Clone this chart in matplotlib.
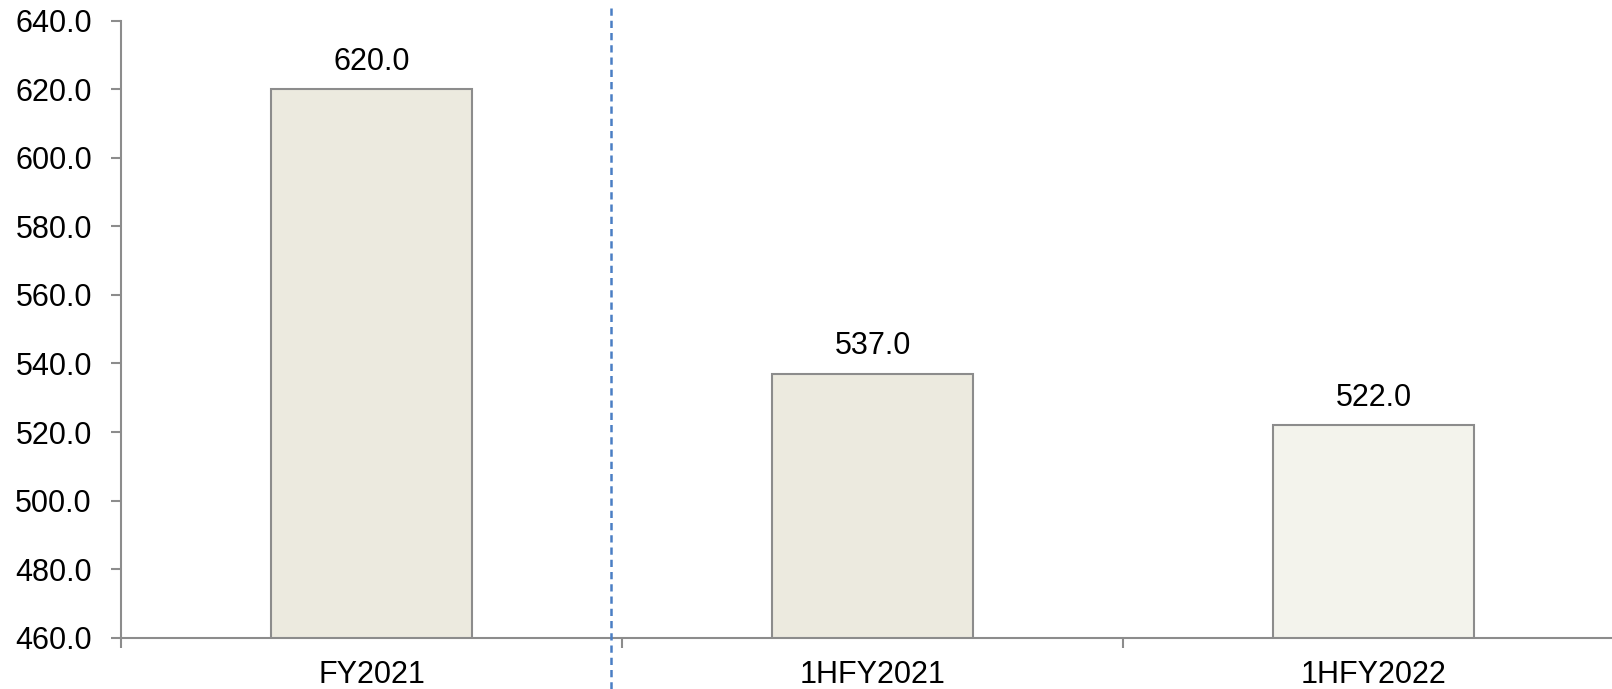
import matplotlib.pyplot as plt
import matplotlib.transforms as mtransforms

categories = ["FY2021", "1HFY2021", "1HFY2022"]
values = [620.0, 537.0, 522.0]
bar_colors = ["#ECEADF", "#ECEADF", "#F3F3EC"]
yticks = [460, 480, 500, 520, 540, 560, 580, 600, 620, 640]

plt.rcParams["font.family"] = ["Liberation Sans", "DejaVu Sans"]

fig = plt.figure(figsize=(16.12, 6.89), dpi=100)
ax = fig.add_axes([0.0751, 0.0745, 0.9287 * 1.004, 0.8955])

x = list(range(len(categories)))
bars = ax.bar(x, values, width=0.4, color=bar_colors,
              edgecolor="#8C8C8C", linewidth=1.5, zorder=2)

for xi, v in zip(x, values):
    ax.annotate(f"{v:.1f}", (xi, v), xytext=(0, 9), textcoords="offset points",
                ha="center", va="bottom", fontsize=22, color="black")

ax.set_xlim(-0.5, 2.5)
ax.set_ylim(460, 640)
ax.set_yticks(yticks)
ax.set_yticklabels([f"{t:.1f}" for t in yticks])

# category labels centred on bars, ticks on category boundaries
ax.set_xticks(x)
ax.set_xticklabels(categories)
ax.set_xticks([-0.5, 0.5, 1.5, 2.5], minor=True)
ax.tick_params(axis="x", which="major", length=0, pad=16, labelsize=22)
ax.tick_params(axis="x", which="minor", length=7, width=1.5, color="#8C8C8C",
               direction="out")
ax.tick_params(axis="y", length=7, width=1.5, color="#8C8C8C", labelsize=22, pad=14)

for side in ["top", "right"]:
    ax.spines[side].set_visible(False)
for side in ["left", "bottom"]:
    ax.spines[side].set_color("#8C8C8C")
    ax.spines[side].set_linewidth(1.5)

# dashed separator between the full year and half year figures
trans = mtransforms.blended_transform_factory(ax.transData, fig.transFigure)
ax.plot([0.478, 0.478], [0.988, 0.0], transform=trans, color="#4A7EC4",
        linewidth=1.8, linestyle=(0, (2.9, 2.0)), clip_on=False, zorder=3)

fig.savefig("out.png", dpi=100)
